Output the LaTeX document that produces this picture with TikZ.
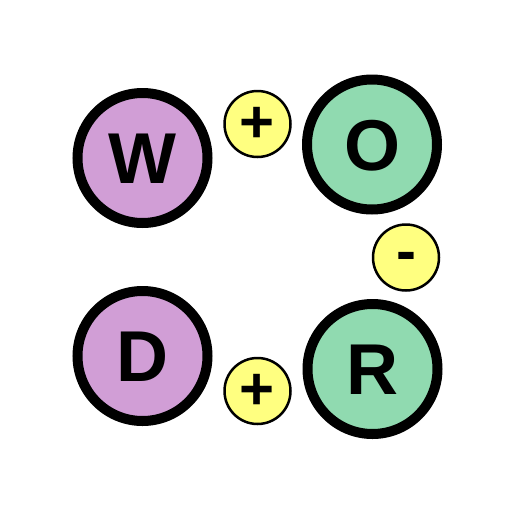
\documentclass[tikz,border=0pt]{standalone}
\usepackage{fontspec}
\setmainfont{Liberation Sans}
\definecolor{purp}{HTML}{D19ED6}
\definecolor{grn}{HTML}{90DAB0}
\definecolor{yel}{HTML}{FFFF80}
\begin{document}
\begin{tikzpicture}[x=1pt,y=-1pt,
  big/.style={circle,draw=black,line width=10pt,minimum size=130pt,inner sep=0pt},
  bigtxt/.style={anchor=base,inner sep=0pt,font=\fontsize{72}{72}\selectfont\bfseries},
  small/.style={circle,draw=black,line width=2.5pt,fill=yel,minimum size=66pt,inner sep=0pt},
  smalltxt/.style={anchor=base,inner sep=0pt,font=\fontsize{60}{60}\selectfont\bfseries}]
\useasboundingbox (0,0) rectangle (512,512);
\node[big,fill=purp] (W) at (142.5,158) {};
\node[big,fill=grn] (O) at (372,144.5) {};
\node[big,fill=purp] (D) at (142.5,356) {};
\node[big,fill=grn] (R) at (372.5,369) {};
\node[bigtxt] (Wt) at ([yshift=-25.8pt]W.center) {W};
\node[bigtxt] (Ot) at ([yshift=-25.8pt]O.center) {O};
\node[bigtxt] (Dt) at ([yshift=-25.8pt]D.center) {D};
\node[bigtxt] (Rt) at ([yshift=-25.8pt]R.center) {R};
\node[small] (p1) at (257.5,124) {};
\node[small] (m) at (406,257.5) {};
\node[small] (p2) at (257.5,391) {};
\node[smalltxt] (p1t) at ([yshift=-18pt]p1.center) {+};
\node[smalltxt] (mt) at ([yshift=-14pt]m.center) {-};
\node[smalltxt] (p2t) at ([yshift=-18pt]p2.center) {+};
\end{tikzpicture}
\end{document}
